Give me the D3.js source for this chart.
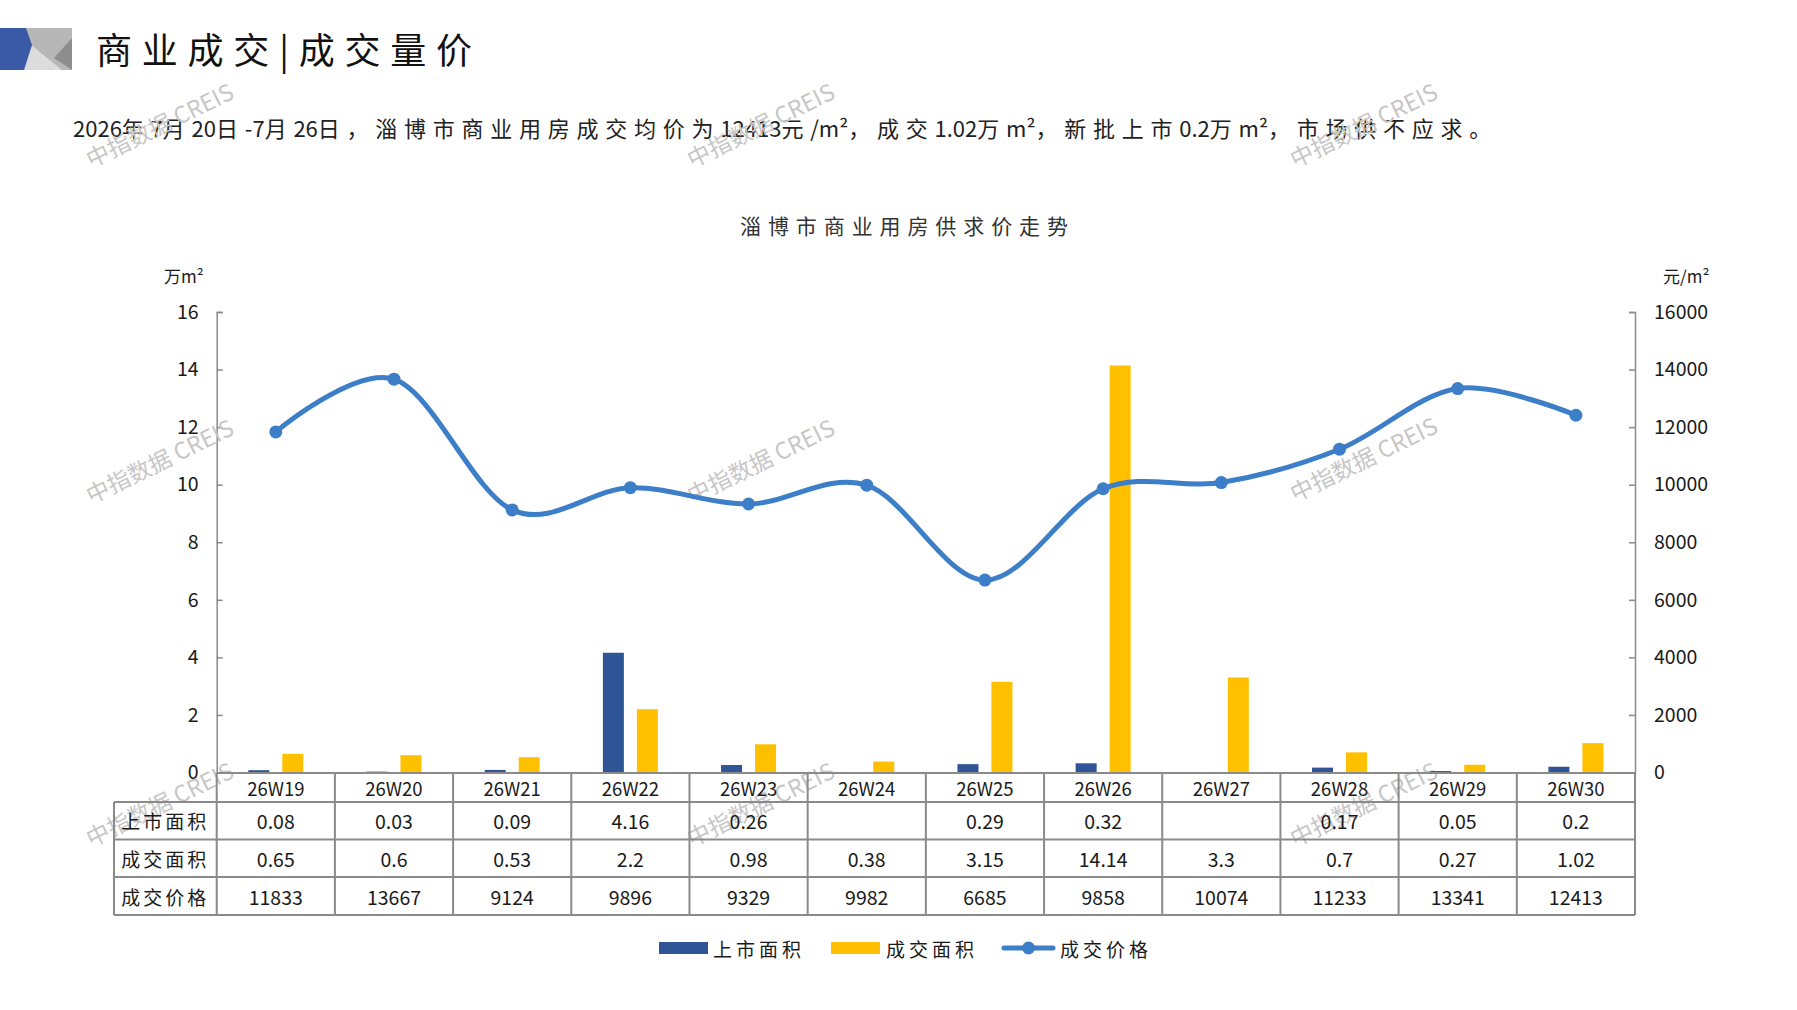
<!DOCTYPE html>
<html><head><meta charset="utf-8">
<script src="https://cdn.jsdelivr.net/npm/d3@7"></script>
<style>
html,body{margin:0;padding:0;background:#fff;}
svg{display:block;font-family:"Noto Sans CJK SC","Noto Sans",sans-serif;}
</style></head>
<body>
<svg id="c" width="1797" height="1010"></svg>
<script>
// ---- data ----
const weeks = ["26W19","26W20","26W21","26W22","26W23","26W24","26W25","26W26","26W27","26W28","26W29","26W30"];
const supplyArea = [0.08,0.03,0.09,4.16,0.26,null,0.29,0.32,null,0.17,0.05,0.2];
const dealArea = [0.65,0.6,0.53,2.2,0.98,0.38,3.15,14.14,3.3,0.7,0.27,1.02];
const dealPrice = [11833,13667,9124,9896,9329,9982,6685,9858,10074,11233,13341,12413];
const leftTicks = [0,2,4,6,8,10,12,14,16];
const rightTicks = [0,2000,4000,6000,8000,10000,12000,14000,16000];
const seriesNames = ["上市面积","成交面积","成交价格"];
const headerTitle = "商业成交|成交量价";
const subTitle = "2026年7月20日-7月26日，淄博市商业用房成交均价为12413元/m²，成交1.02万m²，新批上市0.2万m²，市场供不应求。";
const chartTitle = "淄博市商业用房供求价走势";
const leftUnit = "万m²", rightUnit = "元/m²";
const watermark = "中指数据 CREIS";

const BLUE = "#2F5597", YELLOW = "#FFC000", LINE = "#3C7EC7", GRID = "#8a8a8a", TXT = "#1a1a1a";
const svg = d3.select("#c");

// ---- header ----
const hdr = svg.append("g");
hdr.append("rect").attr("x",22).attr("y",28).attr("width",50).attr("height",42).attr("fill","#b7b7b7");
hdr.append("polygon").attr("points","30,44 22,70 62,70").attr("fill","#dcdcdc");
hdr.append("polygon").attr("points","72,38 72,70 54,58").attr("fill","#8d8d8d");
hdr.append("polygon").attr("points","0,28 26,28 32,45 24,70 0,70").attr("fill","#3a59a6");
svg.append("text").attr("x",96).attr("y",64).attr("font-size",36).attr("fill","#111")
  .attr("textLength",376).attr("lengthAdjust","spacing").text(headerTitle);

// subtitle: CJK runs spaced, latin runs tight
const subG = svg.append("text").attr("x",73).attr("y",137).attr("font-size",22).attr("fill","#222");
const segs = subTitle.match(/[\u3000-\u9fff\uff00-\uffef]+|[^\u3000-\u9fff\uff00-\uffef]+/g);
const spans = segs.map(s=>{
  const cjk = /[\u3000-\u9fff\uff00-\uffef]/.test(s);
  return {s,cjk,el:subG.append("tspan").text(s)};
});
const w0 = subG.node().getComputedTextLength();
const nCjk = spans.filter(d=>d.cjk).reduce((a,d)=>a+d.s.length,0);
const ls = Math.max(0,(1425-w0)/nCjk);
spans.forEach(d=>{ if(d.cjk) d.el.attr("letter-spacing",ls); });

svg.append("text").attr("x",740).attr("y",234).attr("font-size",21).attr("fill","#333")
  .attr("textLength",328).attr("lengthAdjust","spacing").text(chartTitle);

// ---- scales ----
const x0 = 216.7, x1 = 1635, yTop = 312, yBase = 772.5;
const x = d3.scaleBand().domain(weeks).range([x0,x1]).padding(0);
const bw = x.bandwidth();
const xs = d3.scaleBand().domain(["s","d"]).range([bw/2-27.5,bw/2+27.5]).paddingInner(0.382).paddingOuter(0);
const yL = d3.scaleLinear().domain([0,16]).range([yBase,yTop]);
const yR = d3.scaleLinear().domain([0,16000]).range([yBase,yTop]);

// ---- axes ----
const axL = svg.append("g").attr("transform",`translate(${x0},0)`)
  .call(d3.axisLeft(yL).tickValues(leftTicks).tickSizeInner(-6).tickSizeOuter(-6).tickPadding(18));
const axR = svg.append("g").attr("transform",`translate(${x1},0)`)
  .call(d3.axisRight(yR).tickValues(rightTicks).tickSizeInner(-6).tickSizeOuter(-6).tickPadding(19).tickFormat(d3.format("d")));
[axL,axR].forEach(a=>{
  a.selectAll("path,line").attr("stroke",GRID).attr("stroke-width",1.5);
  a.selectAll("text").attr("font-size",19.5).attr("fill",TXT).attr("font-family","'Noto Sans CJK SC',sans-serif");
});
svg.append("text").attr("x",164).attr("y",283).attr("font-size",17).attr("fill",TXT).text(leftUnit);
svg.append("text").attr("x",1663).attr("y",283).attr("font-size",17).attr("fill",TXT).text(rightUnit);

// ---- watermarks (under marks) ----
const wmPos = [[159,124],[760,124],[1363,124],[159,460],[760,460],[1363,458],[159,803],[760,803],[1363,803]];
svg.append("g").selectAll("text").data(wmPos).join("text")
  .attr("transform",d=>`translate(${d[0]},${d[1]}) rotate(-26)`)
  .attr("text-anchor","middle").attr("dominant-baseline","central")
  .attr("font-size",23).attr("fill","#c6c6c6").attr("font-family","'Noto Sans CJK SC',Arial,sans-serif")
  .text(watermark);

// ---- bars ----
const bars = svg.append("g");
bars.selectAll("rect.s").data(weeks.map((w,i)=>({w,v:supplyArea[i]})).filter(d=>d.v!=null)).join("rect")
  .attr("class","s").attr("x",d=>x(d.w)+xs("s")).attr("width",xs.bandwidth())
  .attr("y",d=>yL(d.v)).attr("height",d=>yBase-yL(d.v)).attr("fill",BLUE);
bars.selectAll("rect.d").data(weeks.map((w,i)=>({w,v:dealArea[i]}))).join("rect")
  .attr("class","d").attr("x",d=>x(d.w)+xs("d")).attr("width",xs.bandwidth())
  .attr("y",d=>yL(d.v)).attr("height",d=>yBase-yL(d.v)).attr("fill",YELLOW);

// ---- line ----
const pts = weeks.map((w,i)=>({w,v:dealPrice[i]}));
const line = d3.line().x(d=>x(d.w)+bw/2).y(d=>yR(d.v)).curve(d3.curveCardinal.tension(0));
svg.append("path").datum(pts).attr("d",line).attr("fill","none").attr("stroke",LINE).attr("stroke-width",5).attr("stroke-linecap","round");
svg.append("g").selectAll("circle").data(pts).join("circle")
  .attr("cx",d=>x(d.w)+bw/2).attr("cy",d=>yR(d.v)).attr("r",6.5).attr("fill",LINE);

// ---- table ----
const tb = svg.append("g");
const rowY = [773,802,839.5,877,915];
const labL = 114;
const gl = (x1_,y1_,x2_,y2_)=>tb.append("line").attr("x1",x1_).attr("y1",y1_).attr("x2",x2_).attr("y2",y2_).attr("stroke",GRID).attr("stroke-width",2);
gl(x0,rowY[0],x1,rowY[0]);
for(let r=1;r<rowY.length;r++) gl(labL,rowY[r],x1,rowY[r]);
gl(labL,rowY[1],labL,rowY[4]);
weeks.forEach(w=>gl(x(w),rowY[0],x(w),rowY[4]));
gl(x1,rowY[0],x1,rowY[4]);
// header
tb.selectAll("text.h").data(weeks).join("text").attr("class","h")
  .attr("x",d=>x(d)+bw/2).attr("y",(rowY[0]+rowY[1])/2).attr("text-anchor","middle").attr("dominant-baseline","central")
  .attr("font-size",18.5).attr("fill",TXT).text(d=>d);
const rows = [[seriesNames[0],supplyArea],[seriesNames[1],dealArea],[seriesNames[2],dealPrice]];
rows.forEach((r,ri)=>{
  const cy = (rowY[ri+1]+rowY[ri+2])/2;
  tb.append("text").attr("x",(labL+x0)/2).attr("y",cy).attr("text-anchor","middle").attr("dominant-baseline","central")
    .attr("font-size",19).attr("fill",TXT).attr("letter-spacing",3).text(r[0]);
  tb.selectAll("text.r"+ri).data(weeks.map((w,i)=>({w,v:r[1][i]}))).join("text").attr("class","r"+ri)
    .attr("x",d=>x(d.w)+bw/2).attr("y",cy).attr("text-anchor","middle").attr("dominant-baseline","central")
    .attr("font-size",19.5).attr("fill",TXT).text(d=>d.v==null?"":String(d.v));
});

// ---- legend ----
const lg = svg.append("g");
const ly = 948;
lg.append("rect").attr("x",659).attr("y",ly-6).attr("width",49).attr("height",12).attr("fill",BLUE);
lg.append("text").attr("x",713).attr("y",ly).attr("dominant-baseline","central").attr("font-size",19).attr("fill",TXT)
  .attr("textLength",88).attr("lengthAdjust","spacing").text(seriesNames[0]);
lg.append("rect").attr("x",831).attr("y",ly-6).attr("width",49).attr("height",12).attr("fill",YELLOW);
lg.append("text").attr("x",886).attr("y",ly).attr("dominant-baseline","central").attr("font-size",19).attr("fill",TXT)
  .attr("textLength",88).attr("lengthAdjust","spacing").text(seriesNames[1]);
lg.append("line").attr("x1",1004).attr("x2",1053).attr("y1",ly).attr("y2",ly).attr("stroke",LINE).attr("stroke-width",5).attr("stroke-linecap","round");
lg.append("circle").attr("cx",1028.5).attr("cy",ly).attr("r",6.5).attr("fill",LINE);
lg.append("text").attr("x",1060).attr("y",ly).attr("dominant-baseline","central").attr("font-size",19).attr("fill",TXT)
  .attr("textLength",88).attr("lengthAdjust","spacing").text(seriesNames[2]);
</script>
</body></html>
